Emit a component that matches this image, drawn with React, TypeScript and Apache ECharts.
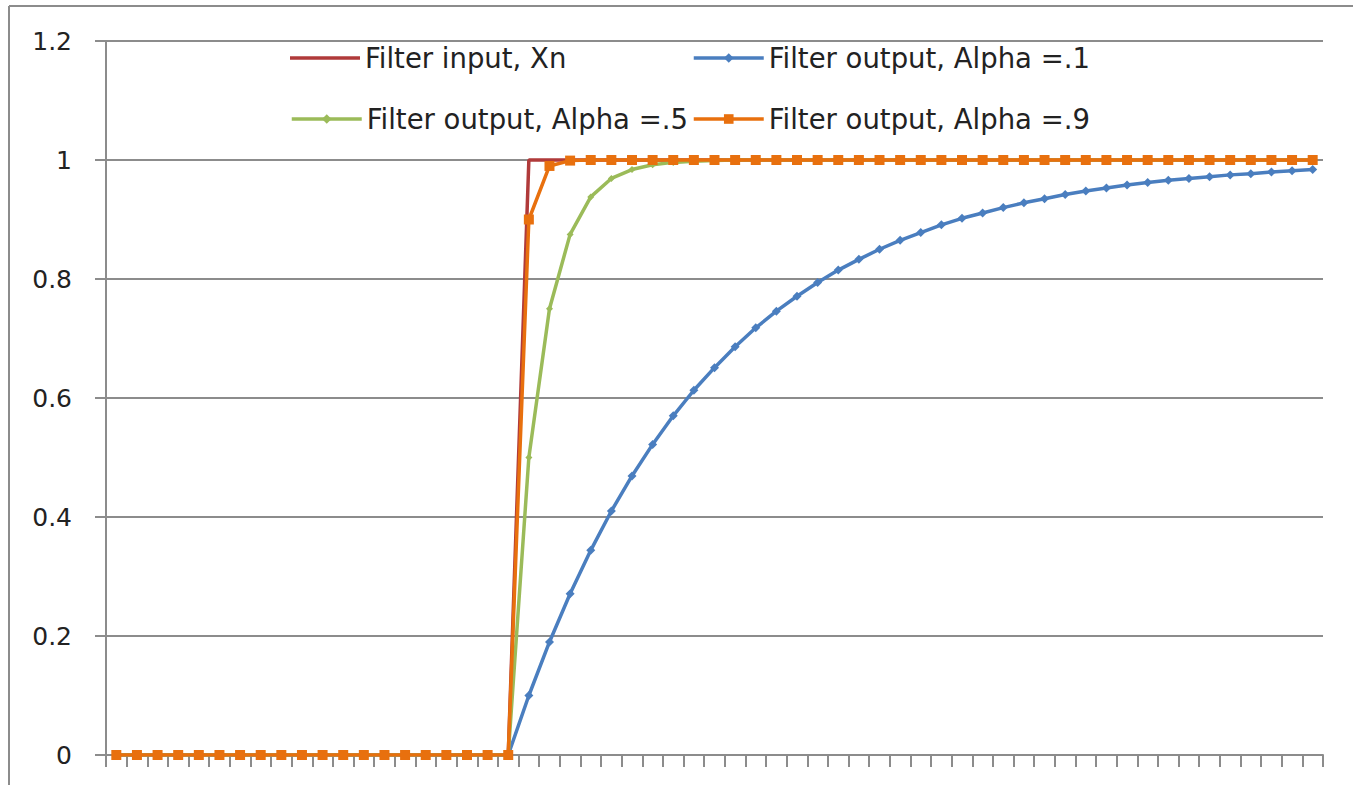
import React, { useEffect, useRef } from "react";
import * as echarts from "echarts";

const categories: string[] = [
  "1","2","3","4","5","6","7","8","9","10","11","12","13","14","15","16","17","18","19","20",
  "21","22","23","24","25","26","27","28","29","30","31","32","33","34","35","36","37","38","39","40",
  "41","42","43","44","45","46","47","48","49","50","51","52","53","54","55","56","57","58","59",
];

const filterInput: number[] = [
  0,0,0,0,0,0,0,0,0,0,0,0,0,0,0,0,0,0,0,0,
  1,1,1,1,1,1,1,1,1,1,1,1,1,1,1,1,1,1,1,1,
  1,1,1,1,1,1,1,1,1,1,1,1,1,1,1,1,1,1,1,
];

const alpha01: number[] = [
  0,0,0,0,0,0,0,0,0,0,0,0,0,0,0,0,0,0,0,0,
  0.1,0.19,0.271,0.344,0.41,0.469,0.522,0.57,0.613,0.651,0.686,0.718,0.746,0.771,0.794,0.815,0.833,0.85,0.865,0.878,
  0.891,0.902,0.911,0.92,0.928,0.935,0.942,0.948,0.953,0.958,0.962,0.966,0.969,0.972,0.975,0.977,0.98,0.982,0.984,
];

const alpha05: number[] = [
  0,0,0,0,0,0,0,0,0,0,0,0,0,0,0,0,0,0,0,0,
  0.5,0.75,0.875,0.938,0.969,0.984,0.992,0.996,0.998,0.999,1,1,1,1,1,1,1,1,1,1,
  1,1,1,1,1,1,1,1,1,1,1,1,1,1,1,1,1,1,1,
];

const alpha09: number[] = [
  0,0,0,0,0,0,0,0,0,0,0,0,0,0,0,0,0,0,0,0,
  0.9,0.99,0.999,1,1,1,1,1,1,1,1,1,1,1,1,1,1,1,1,1,
  1,1,1,1,1,1,1,1,1,1,1,1,1,1,1,1,1,1,1,
];

const seriesNames = [
  "Filter input, Xn",
  "Filter output, Alpha =.1",
  "Filter output, Alpha =.5",
  "Filter output, Alpha =.9",
];

const FONT = "DejaVu Sans";
const GRAY = "#8c8c8c";

export default function App() {
  const ref = useRef<HTMLDivElement>(null);
  useEffect(() => {
    document.body.style.margin = "0";
    if (!ref.current) return;
    const chart = echarts.init(ref.current, null, { renderer: "svg" });
    const legendText = { fontFamily: FONT, fontSize: 27.5, color: "#222", lineHeight: 32 };
    const mkLegend = (name: string, left: number, top: number, plain = false) => ({
      data: plain ? [{ name, icon: "rect" }] : [name],
      left,
      top,
      padding: 0,
      itemWidth: 70,
      itemHeight: plain ? 3.5 : 12,
      itemGap: 0,
      lineStyle: { width: 3.5 },
      textStyle: legendText,
      selectedMode: false,
    });
    chart.setOption({
      animation: false,
      backgroundColor: "#fff",
      grid: { left: 106, right: 30, top: 41, bottom: 30, containLabel: false },
      legend: [
        mkLegend(seriesNames[0], 290, 42, true),
        mkLegend(seriesNames[1], 692, 42),
        mkLegend(seriesNames[2], 290, 103),
        mkLegend(seriesNames[3], 692, 103),
      ],
      xAxis: {
        type: "category",
        data: categories,
        boundaryGap: true,
        axisLine: { show: true, lineStyle: { color: GRAY, width: 2 } },
        axisTick: { show: true, length: 12, lineStyle: { color: GRAY, width: 2 } },
        axisLabel: { show: false },
        splitLine: { show: false },
      },
      yAxis: {
        type: "value",
        min: 0,
        max: 1.2,
        interval: 0.2,
        axisLine: { show: true, lineStyle: { color: GRAY, width: 2 } },
        axisTick: { show: true, length: 11, lineStyle: { color: GRAY, width: 2 } },
        axisLabel: {
          margin: 34,
          fontFamily: FONT,
          fontSize: 25,
          color: "#222",
          formatter: (v: number) => String(Math.round(v * 10) / 10),
        },
        splitLine: { show: true, lineStyle: { color: GRAY, width: 2 } },
      },
      graphic: [
        { type: "line", shape: { x1: 9, y1: 6, x2: 1353, y2: 6 }, style: { stroke: GRAY, lineWidth: 2 } },
        { type: "line", shape: { x1: 9, y1: 6, x2: 9, y2: 785 }, style: { stroke: GRAY, lineWidth: 2 } },
      ],
      series: [
        {
          name: seriesNames[0],
          type: "line",
          data: filterInput,
          symbol: "none",
          lineStyle: { color: "#b03a3a", width: 3.5 },
          itemStyle: { color: "#b03a3a" },
          z: 1,
        },
        {
          name: seriesNames[1],
          type: "line",
          data: alpha01,
          symbol: "diamond",
          symbolSize: 9,
          lineStyle: { color: "#4a7ebf", width: 3.5 },
          itemStyle: { color: "#4a7ebf" },
          z: 2,
        },
        {
          name: seriesNames[2],
          type: "line",
          data: alpha05,
          symbol: "diamond",
          symbolSize: 7,
          lineStyle: { color: "#9bbb59", width: 3.5 },
          itemStyle: { color: "#9bbb59" },
          z: 3,
        },
        {
          name: seriesNames[3],
          type: "line",
          data: alpha09,
          symbol: "rect",
          symbolSize: 10,
          lineStyle: { color: "#e8700e", width: 3.5 },
          itemStyle: { color: "#e8700e" },
          z: 4,
        },
      ],
    });
    return () => chart.dispose();
  }, []);
  return <div ref={ref} style={{ width: 1353, height: 785 }} />;
}
